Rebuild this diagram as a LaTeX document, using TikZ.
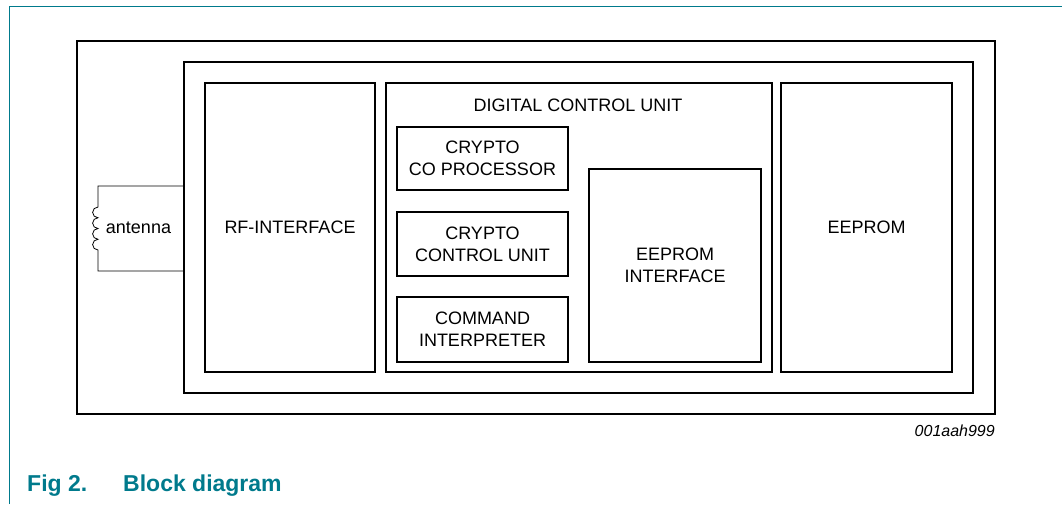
\documentclass[tikz,border=0pt]{standalone}
\usepackage{fontspec}
\setmainfont{Liberation Sans}
\usepackage{tikz}
\definecolor{nxpteal}{RGB}{0,122,140}

\tikzset{
  blk/.style={draw, line width=1.5pt, inner sep=0pt, align=center,
    font=\fontsize{18}{21.7}\selectfont},
  coil/.style={line width=0.8pt},
  caption/.style={font=\fontsize{23}{26}\selectfont\bfseries, text=nxpteal,
    anchor=base west, inner sep=0pt}
}

\begin{document}
\begin{tikzpicture}[x=1pt, y=-1pt]
\useasboundingbox (0,0) rectangle (1062,504);
% page frame
\draw[nxpteal, line width=1pt] (9,504) -- (9,6) -- (1062,6);

\node[blk, minimum width=918, minimum height=373] (outerbox) at (536,227.5) {};
\node[blk, minimum width=789, minimum height=331] (chip) at (578.5,227.5) {};
\node[blk, minimum width=170, minimum height=289] (rfif) at (290,227.5) {RF-INTERFACE};
\node[blk, minimum width=386, minimum height=289] (dcu) at (579,227.5) {};
\node[blk, minimum width=171, minimum height=289] (eeprom) at (866.5,227.5) {EEPROM};
\node[font=\fontsize{18}{21.7}\selectfont] (dcutitle) at (578,105) {DIGITAL CONTROL UNIT};

\node[blk, minimum width=171, minimum height=63] (cryptocop) at (482.5,158.5) {CRYPTO\\CO PROCESSOR};
\node[blk, minimum width=171, minimum height=64] (cryptoctrl) at (482.5,244) {CRYPTO\\CONTROL UNIT};
\node[blk, minimum width=171, minimum height=65] (cmdint) at (482.5,329.5) {COMMAND\\INTERPRETER};
\node[blk, minimum width=172, minimum height=193] (eepromif) at (675,265.5) {EEPROM\\INTERFACE};

% antenna
\coordinate (anttop) at (chip.west |- 0,186);
\coordinate (antbot) at (chip.west |- 0,271);
\draw[coil] (anttop) -- (98,186) -- (98,207)
  arc[start angle=270, end angle=90, radius=5.375]
  arc[start angle=270, end angle=90, radius=5.375]
  arc[start angle=270, end angle=90, radius=5.375]
  arc[start angle=270, end angle=90, radius=5.375]
  -- (98,271) -- (antbot);
\node[font=\fontsize{18}{21.7}\selectfont] (antlabel) at (138.5,228) {antenna};

\node[font=\fontsize{16}{19}\selectfont\itshape, anchor=east, inner sep=0pt] (figid) at (995,431) {001aah999};
\node[caption] (figno) at (27,491) {Fig 2.};
\node[caption] (figtitle) at (123,491) {Block diagram};
\end{tikzpicture}
\end{document}
